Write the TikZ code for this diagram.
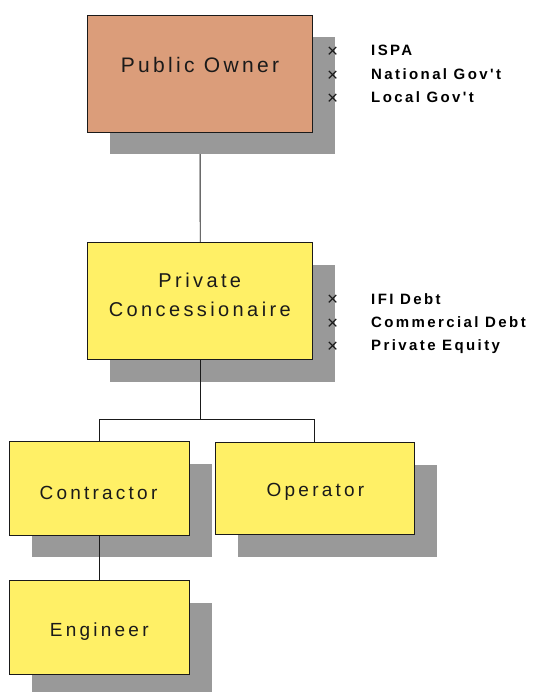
\documentclass[tikz,border=0pt]{standalone}
\usepackage{fontspec}
\setmainfont{Liberation Sans}
\newfontfamily\boxfont[LetterSpace=17]{Liberation Sans}
\newfontfamily\ownerfont[LetterSpace=16]{Liberation Sans}
\newfontfamily\listfont[LetterSpace=16]{Liberation Sans}
\usetikzlibrary{shadows,calc}
\pgfdeclarelayer{background}
\pgfsetlayers{background,main}
\definecolor{ownerfill}{RGB}{219,157,122}
\definecolor{boxyellow}{RGB}{255,240,102}
\definecolor{shadowgray}{RGB}{153,153,153}
\definecolor{inkdark}{RGB}{26,26,26}
\begin{document}
\begin{tikzpicture}[x=1pt,y=-1pt,
  orgbox/.style={draw=inkdark, line width=0.9pt, inner sep=0pt,
    drop shadow={shadow xshift=22.5pt, shadow yshift=-22.5pt, fill=shadowgray, draw=none, opacity=1}},
  boxtext/.style={font=\boxfont\fontsize{19}{22}\selectfont, text=inkdark, inner sep=0pt, anchor=base},
  toptext/.style={font=\boxfont\fontsize{20}{29.4}\selectfont, text=inkdark, inner sep=0pt, anchor=base},
  crossmark/.style={font=\fontsize{19}{20}\selectfont, text=inkdark, inner sep=0pt, anchor=center},
  listitem/.style={font=\listfont\bfseries\fontsize{15}{17}\selectfont, text=black, inner sep=0pt, anchor=base west},
  conn/.style={draw=inkdark, line width=0.9pt}
]
\useasboundingbox (0,0) rectangle (537,692);

% boxes
\node[orgbox, fill=ownerfill, minimum width=225pt, minimum height=117pt] (po) at (200,73.5) {};
\node[orgbox, fill=boxyellow, minimum width=225pt, minimum height=117pt] (pc) at (200.3,300.8) {};
\node[orgbox, fill=boxyellow, minimum width=179.5pt, minimum height=93.3pt] (ct) at (99.6,488.3) {};
\node[orgbox, fill=boxyellow, minimum width=198.7pt, minimum height=92pt] (op) at (314.7,488.7) {};
\node[orgbox, fill=boxyellow, minimum width=180pt, minimum height=93.3pt] (en) at (99.6,627.3) {};

% box texts
\node[toptext, font=\ownerfont\fontsize{21}{24}\selectfont] (po-t) at (200,72.3) {Public Owner};
\node[toptext, align=center] (pc-t) at (199.8,316.7) {Private\\Concessionaire};
\node[boxtext] (ct-t) at (98.5,499) {Contractor};
\node[boxtext] (op-t) at (315.5,496.7) {Operator};
\node[boxtext] (en-t) at (99.3,636) {Engineer};

% connectors
\begin{pgfonlayer}{background}
\draw[conn] (po) -- (pc);
\end{pgfonlayer}
\coordinate (bus) at ($(pc.south)+(0,60)$);
\draw[conn] (pc.south) -- (bus);
\draw[conn] (ct.north) |- (bus) -| (op.north);
\draw[conn] (ct.south) -- (en.north);

% owner list
\node[crossmark] (x1) at (332.7,52.5) {×};
\node[crossmark] (x2) at (332.7,76.2) {×};
\node[crossmark] (x3) at (332.7,99.2) {×};
\node[listitem] (i1) at (371,56) {ISPA};
\node[listitem] (i2) at (371,79.7) {National Gov't};
\node[listitem] (i3) at (371,102.7) {Local Gov't};

% financing list
\node[crossmark] (x4) at (332.7,300.5) {×};
\node[crossmark] (x5) at (332.7,323.8) {×};
\node[crossmark] (x6) at (332.7,347.2) {×};
\node[listitem] (i4) at (371,304) {IFI Debt};
\node[listitem] (i5) at (371,327.3) {Commercial Debt};
\node[listitem] (i6) at (371,350.7) {Private Equity};
\end{tikzpicture}
\end{document}
